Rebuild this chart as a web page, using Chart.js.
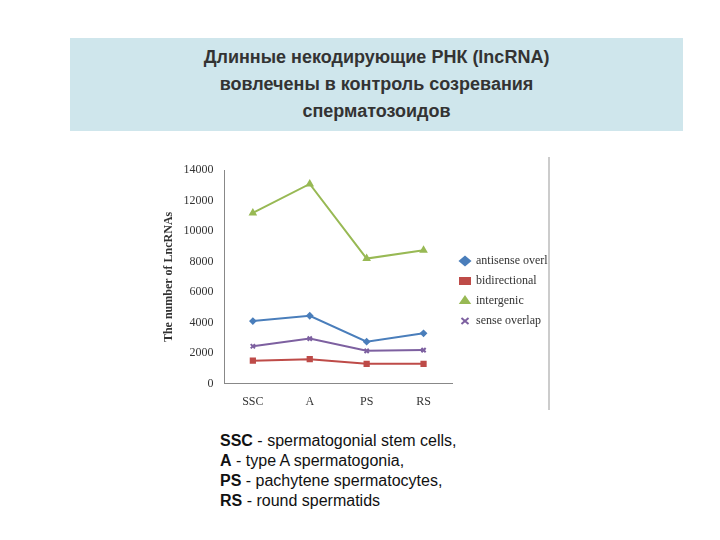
<!DOCTYPE html>
<html>
<head>
<meta charset="utf-8">
<script src="https://cdn.jsdelivr.net/npm/chart.js@4"></script>
<style>
  body { margin: 0; width: 720px; height: 540px; background: #fff; position: relative; font-family: "Liberation Sans", Arial, sans-serif; }
  #banner { position: absolute; left: 70px; top: 38px; width: 613px; height: 93px; background: #cfe6ec; }
  #banner p { margin: 0; padding-top: 6px; text-align: center; font-weight: bold; font-size: 18px; line-height: 27px; color: #333; }
  #wrap { position: absolute; left: 158px; top: 160px; width: 392px; height: 252px; }
  #sep { position: absolute; left: 548px; top: 157px; width: 2px; height: 253px; background: #ccc; }
  #caption { position: absolute; left: 220px; top: 431px; font-size: 16px; line-height: 20px; color: #111; }
</style>
</head>
<body>
<div id="banner"><p>Длинные некодирующие РНК (lncRNA)<br>вовлечены в контроль созревания<br>сперматозоидов</p></div>
<div id="wrap"><canvas id="chart"></canvas></div>
<div id="sep"></div>
<div id="caption">
  <b>SSC</b> - spermatogonial stem cells,<br>
  <b>A</b> - type A spermatogonia,<br>
  <b>PS</b> - pachytene spermatocytes,<br>
  <b>RS</b> - round spermatids
</div>
<script>
// Datos
const etapas = ['SSC', 'A', 'PS', 'RS'];
const antisense = [4100, 4450, 2750, 3300];
const bidireccional = [1500, 1600, 1300, 1300];
const intergenico = [11200, 13100, 8200, 8750];
const sentido = [2450, 2950, 2150, 2200];

const serif = '"Liberation Serif", "Times New Roman", serif';

function serie(nombre, datos, color, estilo, radio) {
    return {
        label: nombre,
        data: datos,
        borderColor: color,
        backgroundColor: color,
        pointStyle: estilo,
        pointRadius: radio,
        borderWidth: 2,
        tension: 0
    };
}

const ctx = document.getElementById('chart').getContext('2d');
new Chart(ctx, {
    type: 'line',
    data: {
        labels: etapas,
        datasets: [
            serie('antisense overlap', antisense, '#4a7ebb', 'rectRot', 2.5),
            serie('bidirectional', bidireccional, '#be4b48', 'rect', 3),
            serie('intergenic', intergenico, '#98b954', 'triangle', 3),
            serie('sense overlap', sentido, '#7d60a0', 'crossRot', 3)
        ]
    },
    options: {
        responsive: true,
        maintainAspectRatio: false,
        animation: false,
        layout: { padding: { top: 10, bottom: 0, left: 0, right: 0 } },
        plugins: {
            legend: {
                position: 'right',
                labels: {
                    usePointStyle: true,
                    pointStyleWidth: 10,
                    boxHeight: 6,
                    padding: 8,
                    color: '#333',
                    font: { family: serif, size: 12 }
                }
            },
            tooltip: { enabled: false }
        },
        scales: {
            x: {
                offset: true,
                grid: { display: false },
                border: { color: '#888' },
                ticks: { color: '#333', font: { family: serif, size: 12 } }
            },
            y: {
                min: 0,
                max: 14000,
                grid: { display: false },
                border: { color: '#888' },
                ticks: { stepSize: 2000, color: '#333', font: { family: serif, size: 12 },
                    callback: v => String(v) },
                title: { display: true, text: 'The number of LncRNAs', color: '#333', font: { family: serif, size: 12, weight: 'bold' } }
            }
        }
    }
});
</script>
</body>
</html>
